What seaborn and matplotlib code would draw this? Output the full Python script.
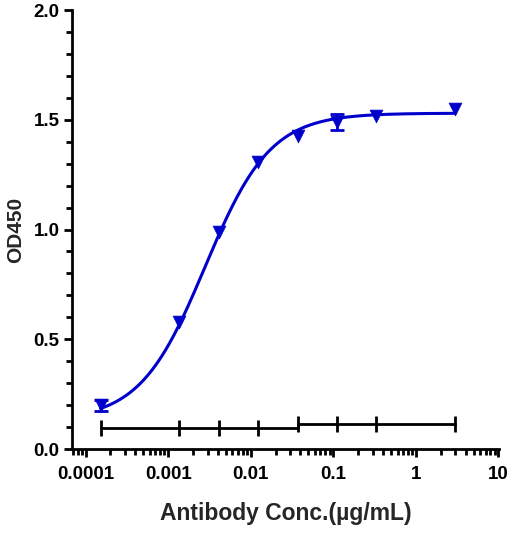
import numpy as np
import pandas as pd
import matplotlib
matplotlib.use("Agg")
import matplotlib.pyplot as plt
import matplotlib.ticker as mticker
import seaborn as sns

# ---- data ----
conc = [0.000152, 0.00137, 0.00412, 0.0123, 0.037, 0.111, 0.333, 3.0]
od450 = [0.20, 0.58, 0.99, 1.307, 1.427, 1.49, 1.518, 1.549]
od450_err = [0.025, 0.0, 0.0, 0.0, 0.0, 0.035, 0.0, 0.0]
blank = [0.096, 0.096, 0.096, 0.096, 0.114, 0.114, 0.114, 0.114]

# 4PL fit parameters
fit_bottom = 0.13
fit_top = 1.53
fit_ec50 = 0.0028
fit_hill = 1.1

xticks = [0.0001, 0.001, 0.01, 0.1, 1, 10]
xticklabels = ["0.0001", "0.001", "0.01", "0.1", "1", "10"]
yticks = [0.0, 0.5, 1.0, 1.5, 2.0]

blue = "#0000CC"

sns.set_style("ticks")
plt.rcParams["font.family"] = ["Liberation Sans", "DejaVu Sans"]
plt.rcParams["font.weight"] = "bold"

fig = plt.figure(figsize=(5.10, 5.35), dpi=100)
ax = fig.add_axes([0.141, 0.1607, 0.837, 0.8206])

df = pd.DataFrame({"conc": conc, "od": od450, "err": od450_err, "blank": blank})

xs = np.logspace(np.log10(conc[0]), np.log10(conc[-1]), 300)
curve = fit_bottom + (fit_top - fit_bottom) / (1 + (fit_ec50 / xs) ** fit_hill)
cdf = pd.DataFrame({"x": xs, "y": curve})

sns.lineplot(data=cdf, x="x", y="y", ax=ax, color=blue, lw=2.2, zorder=3)
err_df = df[df["err"] > 0]
ax.errorbar(err_df["conc"], err_df["od"], yerr=err_df["err"], fmt="none", ecolor=blue,
            elinewidth=2, capsize=5, capthick=2, zorder=3)
sns.scatterplot(data=df, x="conc", y="od", ax=ax, marker="v", s=85,
                color=blue, edgecolor=blue, linewidth=0.5, zorder=4)
sns.lineplot(data=df, x="conc", y="blank", ax=ax, color="black", lw=2,
             drawstyle="steps-post", zorder=3)
sns.scatterplot(data=df, x="conc", y="blank", ax=ax, marker="|", s=130,
                color="black", linewidth=2, zorder=3)

ax.set_xscale("log")
ax.set_xlim(6.83e-5, 10.1)
ax.set_ylim(0, 2.0)
ax.set_xticks(xticks)
ax.set_xticklabels(xticklabels)
ax.xaxis.set_minor_locator(mticker.LogLocator(base=10, subs=np.arange(2, 10)))
ax.xaxis.set_minor_formatter(mticker.NullFormatter())
ax.set_yticks(yticks)
ax.set_yticklabels([f"{v:.1f}" for v in yticks])
ax.yaxis.set_minor_locator(mticker.MultipleLocator(0.1))

for s in ["top", "right"]:
    ax.spines[s].set_visible(False)
for s in ["left", "bottom"]:
    ax.spines[s].set_linewidth(2)
    ax.spines[s].set_color("black")

ax.tick_params(axis="both", which="major", length=6, width=2, labelsize=13.5,
               colors="black")
ax.tick_params(axis="x", which="major", pad=6)
ax.tick_params(axis="y", which="major", pad=3)
ax.tick_params(axis="both", which="minor", length=4, width=2, colors="black")
for lab in ax.get_xticklabels() + ax.get_yticklabels():
    lab.set_fontweight("bold")

ax.set_xlabel("Antibody Conc.(µg/mL)", fontsize=16.5, fontweight="bold", labelpad=14)
ax.set_ylabel("OD450", fontsize=15, fontweight="bold", labelpad=6)

fig.savefig("out.png", dpi=100)
